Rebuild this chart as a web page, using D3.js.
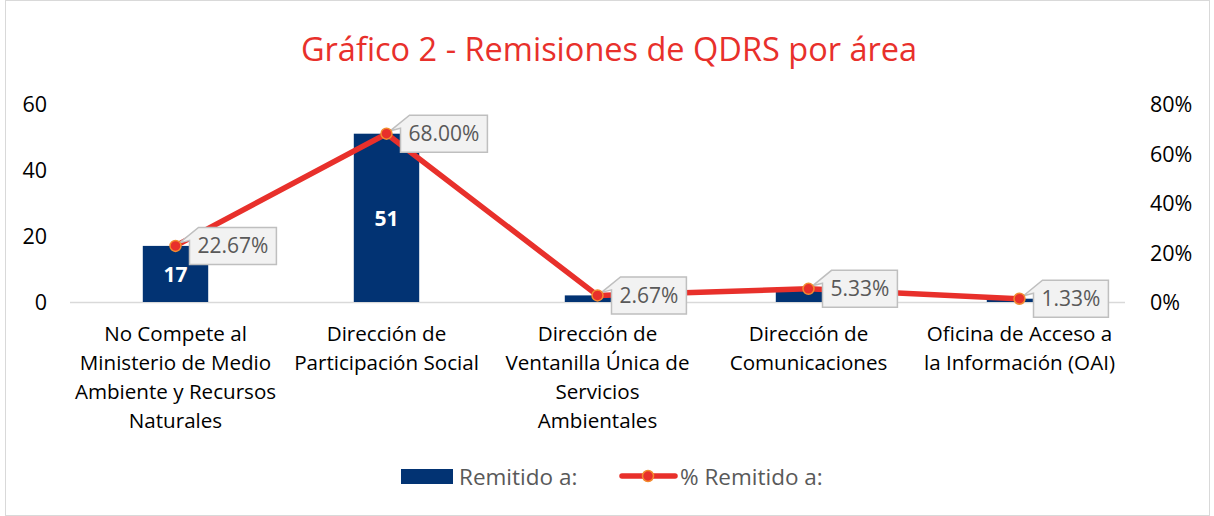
<!DOCTYPE html>
<html>
<head>
<meta charset="utf-8">
<script src="https://cdn.jsdelivr.net/npm/d3@7"></script>
<style>
  body { margin: 0; background: #fff; }
  text { font-family: "Open Sans", sans-serif; }
</style>
</head>
<body>
<svg id="chart" width="1214" height="516"></svg>
<script>
// data
const categories = [
  ["No Compete al", "Ministerio de Medio", "Ambiente y Recursos", "Naturales"],
  ["Dirección de", "Participación Social"],
  ["Dirección de", "Ventanilla Única de", "Servicios", "Ambientales"],
  ["Dirección de", "Comunicaciones"],
  ["Oficina de Acceso a", "la Información (OAI)"]
];
const remitido = [17, 51, 2, 4, 1];
const pctRemitido = [22.67, 68.00, 2.67, 5.33, 1.33];
const leftTicks = [0, 20, 40, 60];
const rightTicks = [0, 20, 40, 60, 80];

const svg = d3.select("#chart");
const barColor = "#023373", lineColor = "#e8302b";

// outer border
svg.append("rect")
  .attr("x", 5.5).attr("y", 0.5)
  .attr("width", 1204).attr("height", 515)
  .attr("fill", "#fff").attr("stroke", "#d9d9d9");

// title
svg.append("text")
  .attr("x", 609).attr("y", 61)
  .attr("text-anchor", "middle")
  .attr("fill", "#e8302b")
  .style("font-size", "32.5px")
  .text("Gráfico 2 - Remisiones de QDRS por área");

// scales
const x = d3.scaleBand()
  .domain(d3.range(categories.length))
  .range([70, 1125]);

const y = d3.scaleLinear().domain([0, 60]).range([302, 104]);
const y2 = d3.scaleLinear().domain([0, 80]).range([302, 104]);

// axes (labels only)
const yAxis = svg.append("g")
  .attr("transform", "translate(47,1)")
  .call(d3.axisLeft(y).tickValues(leftTicks).tickSize(0).tickPadding(0));
yAxis.select(".domain").remove();
yAxis.selectAll("text")
  .style("font-size", "21.5px").attr("fill", "#000")
  .attr("font-family", null);

const y2Axis = svg.append("g")
  .attr("transform", "translate(1150,1)")
  .call(d3.axisRight(y2).tickValues(rightTicks).tickSize(0).tickPadding(0)
    .tickFormat(d => d + "%"));
y2Axis.select(".domain").remove();
y2Axis.selectAll("text")
  .style("font-size", "21.5px").attr("fill", "#000")
  .attr("font-family", null);

// baseline
svg.append("line")
  .attr("x1", 70).attr("x2", 1125)
  .attr("y1", y(0) + 0.5).attr("y2", y(0) + 0.5)
  .attr("stroke", "#d9d9d9").attr("stroke-width", 1.5);

// bars
const barW = x.bandwidth() * 0.31;
const cx = i => x(i) + x.bandwidth() / 2;

svg.selectAll(".bar")
  .data(remitido)
  .join("rect")
    .attr("class", "bar")
    .attr("x", (d, i) => cx(i) - barW / 2)
    .attr("y", d => y(d))
    .attr("width", barW)
    .attr("height", d => y(0) - y(d))
    .attr("fill", barColor);

// bar value labels (only where the bar is tall enough)
svg.selectAll(".barlabel")
  .data(remitido)
  .join("text")
    .attr("class", "barlabel")
    .filter(d => y(0) - y(d) > 30)
    .attr("x", (d, i) => cx(i))
    .attr("y", d => (y(d) + y(0)) / 2 + 8)
    .attr("text-anchor", "middle")
    .attr("fill", "#fff")
    .style("font-size", "21px")
    .style("font-weight", "bold")
    .text(d => d);

// percent line
const line = d3.line()
  .x((d, i) => cx(i))
  .y(d => y2(d));

svg.append("path")
  .datum(pctRemitido)
  .attr("d", line)
  .attr("fill", "none")
  .attr("stroke", lineColor)
  .attr("stroke-width", 5.5)
  .attr("stroke-linejoin", "round");

// callout labels
const labels = svg.selectAll(".callout")
  .data(pctRemitido)
  .join("g")
    .attr("class", "callout");

labels.each(function(d, i) {
  const g = d3.select(this);
  const px = cx(i), py = y2(d);
  const t = g.append("text")
    .style("font-size", "21px")
    .attr("fill", "#595959")
    .text(d.toFixed(2) + "%");
  const tw = t.node().getComputedTextLength();
  const w = tw + 16, h = 37;
  const bx = px + 14, by = py - h / 2;
  g.insert("path", "text")
    .attr("d", `M${bx + 9},${by} L${bx + w},${by} L${bx + w},${by + h} L${bx},${by + h} L${bx},${by + 13} L${px + 4},${py - 3} Z`)
    .attr("fill", "#f2f2f2")
    .attr("stroke", "#bfbfbf")
    .attr("stroke-width", 1.5);
  t.attr("x", bx + w / 2).attr("y", py + 7.5).attr("text-anchor", "middle");
});

// markers
svg.selectAll(".marker")
  .data(pctRemitido)
  .join("circle")
    .attr("class", "marker")
    .attr("cx", (d, i) => cx(i))
    .attr("cy", d => y2(d))
    .attr("r", 5.5)
    .attr("fill", lineColor)
    .attr("stroke", "#f28b30")
    .attr("stroke-width", 1.5);

// category labels
svg.selectAll(".cat")
  .data(categories)
  .join("text")
    .attr("class", "cat")
    .attr("text-anchor", "middle")
    .attr("fill", "#000")
    .style("font-size", "20.6px")
    .each(function(lines, i) {
      d3.select(this).selectAll("tspan")
        .data(lines)
        .join("tspan")
          .attr("x", cx(i))
          .attr("y", (l, j) => 341 + j * 29)
          .text(l => l);
    });

// legend
const lg = svg.append("g");
lg.append("rect")
  .attr("x", 401).attr("y", 469).attr("width", 52).attr("height", 15)
  .attr("fill", barColor);
lg.append("text")
  .attr("x", 459).attr("y", 485)
  .attr("fill", "#595959").style("font-size", "22.5px")
  .text("Remitido a:");
lg.append("line")
  .attr("x1", 622).attr("x2", 675).attr("y1", 476).attr("y2", 476)
  .attr("stroke", lineColor).attr("stroke-width", 5.5)
  .attr("stroke-linecap", "round");
lg.append("circle")
  .attr("cx", 648).attr("cy", 476).attr("r", 5.5)
  .attr("fill", lineColor).attr("stroke", "#f28b30").attr("stroke-width", 1.5);
lg.append("text")
  .attr("x", 680).attr("y", 485)
  .attr("fill", "#595959").style("font-size", "22.5px")
  .text("% Remitido a:");
</script>
</body>
</html>
